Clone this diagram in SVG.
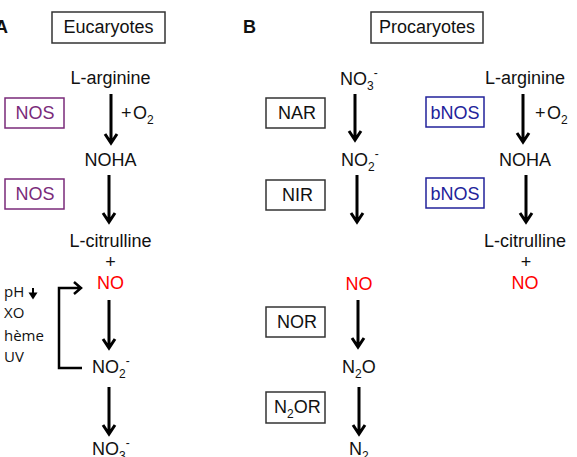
<svg xmlns="http://www.w3.org/2000/svg" width="577" height="457" viewBox="0 0 577 457">
<style>
text{font-family:"Liberation Sans",Arial,sans-serif;font-size:18px;fill:#111}
.m{text-anchor:middle}
.b{font-weight:bold}
.red{fill:#ff0000}
.pur{fill:#7a2a7a}
.blu{fill:#22229a}
.sm{font-family:"Open Sans","Liberation Sans",sans-serif;font-size:15px}
.box{fill:#fff;stroke:#333;stroke-width:1.5}
.pbox{fill:#fff;stroke:#7a2a7a;stroke-width:1.5}
.bbox{fill:#fff;stroke:#22229a;stroke-width:1.5}
.arr{fill:none;stroke:#000;stroke-width:3;stroke-linejoin:miter}
.br{fill:none;stroke:#000;stroke-width:2.5}
</style>
<g id="labelA"><text x="-5" y="33" class="b">A</text></g>
<g id="labelB"><text x="243" y="33" class="b">B</text></g>
<g id="eucaryotes"><rect class="box" x="52" y="12" width="113" height="31"/><text class="m" x="108.5" y="33">Eucaryotes</text></g>
<g id="procaryotes"><rect class="box" x="371" y="12" width="112" height="31"/><text class="m" x="427" y="33">Procaryotes</text></g>
<g id="a-larginine"><text class="m" x="110.5" y="84">L-arginine</text></g>
<g id="a-o2"><text x="121" y="119">+</text><text x="133" y="119">O<tspan font-size="12" dy="5">2</tspan></text></g>
<g id="a-nos1"><rect class="pbox" x="5" y="98" width="59" height="30"/><text class="m pur" x="35" y="119">NOS</text></g>
<g id="a-noha"><text class="m" x="110.5" y="166">NOHA</text></g>
<g id="a-nos2"><rect class="pbox" x="5" y="179" width="59" height="30"/><text class="m pur" x="35" y="200">NOS</text></g>
<g id="a-lcitrulline"><text class="m" x="110.5" y="247">L-citrulline</text><text class="m" x="110.5" y="268">+</text></g>
<g id="a-no"><text class="m red" x="110.5" y="289">NO</text></g>
<g id="a-no2"><text x="92" y="373">NO<tspan font-size="12" dy="5">2</tspan><tspan font-size="12" dy="-13">-</tspan></text></g>
<g id="a-no3"><text x="92" y="455">NO<tspan font-size="12" dy="5">3</tspan><tspan font-size="12" dy="-13">-</tspan></text></g>
<g id="a-factors">
<text class="sm" x="4" y="297">pH</text>
<text class="sm" x="4" y="318">XO</text>
<text class="sm" x="4" y="341">hème</text>
<text class="sm" x="4" y="362">UV</text>
<line x1="33" y1="288" x2="33" y2="294" stroke="#000" stroke-width="2"/>
<polygon points="28.5,292.5 37.5,292.5 33,299.5" fill="#000"/>
</g>
<g id="b-no3"><text x="340" y="85">NO<tspan font-size="12" dy="5">3</tspan><tspan font-size="12" dy="-13">-</tspan></text></g>
<g id="b-nar"><rect class="box" x="266" y="98" width="59" height="30"/><text class="m" x="297" y="119">NAR</text></g>
<g id="b-no2"><text x="341" y="166">NO<tspan font-size="12" dy="5">2</tspan><tspan font-size="12" dy="-13">-</tspan></text></g>
<g id="b-nir"><rect class="box" x="266" y="180" width="59" height="30"/><text class="m" x="297.5" y="201">NIR</text></g>
<g id="b-no"><text class="m red" x="359" y="290">NO</text></g>
<g id="b-nor"><rect class="box" x="266" y="307" width="59" height="30"/><text class="m" x="297" y="328">NOR</text></g>
<g id="b-n2o"><text x="342" y="373">N<tspan font-size="12" dy="5">2</tspan><tspan dy="-5">O</tspan></text></g>
<g id="b-n2or"><rect class="box" x="266" y="392" width="59" height="31"/><text x="274" y="413">N<tspan font-size="12" dy="5">2</tspan><tspan dy="-5">OR</tspan></text></g>
<g id="b-n2"><text x="349" y="455">N<tspan font-size="12" dy="5">2</tspan></text></g>
<g id="c-larginine"><text class="m" x="525" y="84">L-arginine</text></g>
<g id="c-o2"><text x="535" y="119">+</text><text x="547" y="119">O<tspan font-size="12" dy="5">2</tspan></text></g>
<g id="c-bnos1"><rect class="bbox" x="426" y="97" width="58" height="30"/><text class="m blu" x="455" y="119">bNOS</text></g>
<g id="c-noha"><text class="m" x="525" y="166">NOHA</text></g>
<g id="c-bnos2"><rect class="bbox" x="426" y="178" width="58" height="30"/><text class="m blu" x="455" y="200">bNOS</text></g>
<g id="c-lcitrulline"><text class="m" x="525" y="247">L-citrulline</text><text class="m" x="526" y="268">+</text></g>
<g id="c-no"><text class="m red" x="525" y="289">NO</text></g>
<g id="connectors">
<path class="arr" d="M111,94 V143 M105,134 L111,143 L117,134"/>
<path class="arr" d="M109,175 V222 M103,213 L109,222 L115,213"/>
<path class="arr" d="M109,300 V348 M103,339 L109,348 L115,339"/>
<path class="arr" d="M109,387 V434 M103,425 L109,434 L115,425"/>
<path class="br" d="M82,368 H59 V288 H80 M74,282 L81,288 L74,294"/>
<path class="arr" d="M355,94 V140 M349,131 L355,140 L361,131"/>
<path class="arr" d="M357,175 V222 M351,213 L357,222 L363,213"/>
<path class="arr" d="M358,300 V347 M352,338 L358,347 L364,338"/>
<path class="arr" d="M359,387 V434 M353,425 L359,434 L365,425"/>
<path class="arr" d="M523,94 V142 M517,133 L523,142 L529,133"/>
<path class="arr" d="M526,175 V222 M520,213 L526,222 L532,213"/>
</g>
</svg>
